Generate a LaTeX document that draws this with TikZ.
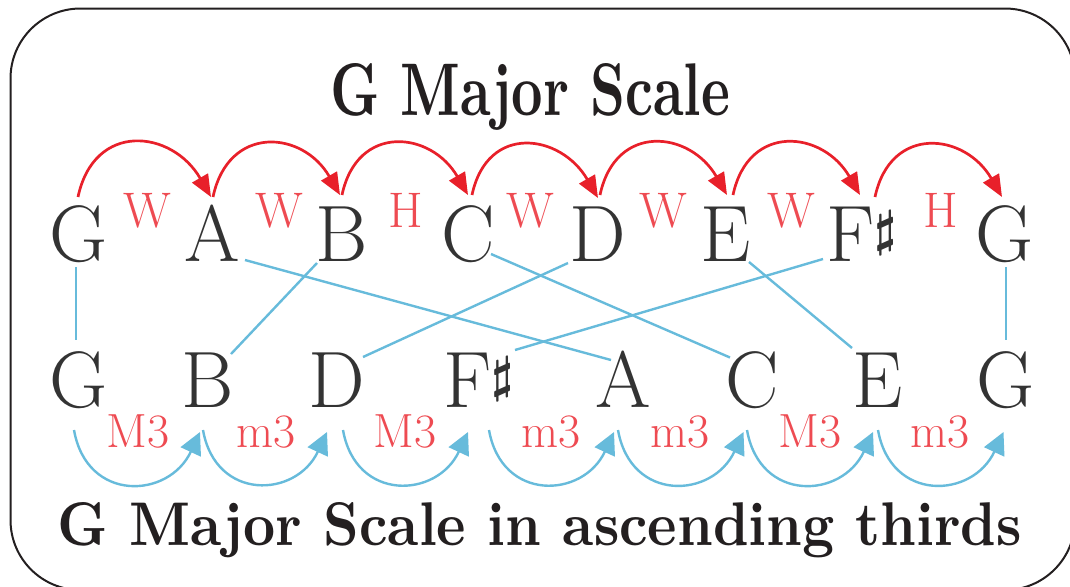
\documentclass[tikz,border=0pt]{standalone}
\usepackage{graphicx}
\usepackage{amsmath}
\usetikzlibrary{arrows.meta}
\definecolor{arrred}{HTML}{E8202A}
\definecolor{labred}{HTML}{EE4B52}
\definecolor{lineblue}{HTML}{67BBDB}
\definecolor{notegray}{HTML}{333333}
\definecolor{titleblack}{HTML}{231F20}
\newcommand{\mysharp}{\raisebox{8pt}{\fontsize{35}{35}\selectfont$\boldsymbol{\sharp}$}}
\begin{document}
\begin{tikzpicture}[x=0.5pt,y=0.5pt,
  note/.style={anchor=base,inner sep=0pt,text=notegray,font=\fontsize{40}{40}\selectfont},
  lab/.style={anchor=base,inner sep=0pt,text=labred,font=\fontsize{25}{25}\selectfont},
  blab/.style={anchor=base,inner sep=0pt,text=labred,font=\fontsize{24}{24}\selectfont},
  redarc/.style={draw=arrred,line width=1.35pt,-{Triangle[length=11pt,width=9pt]},out=78,in=120,looseness=1.5},
  bluearc/.style={draw=lineblue,line width=1.2pt,-{Triangle[length=11pt,width=11pt]},out=-80,in=-115,looseness=1.5},
  link/.style={draw=lineblue,line width=1.2pt},
  ttl/.style={anchor=base,inner sep=0pt,text=titleblack}
]
\useasboundingbox (0,0) rectangle (1070,-586);
\clip (0,0) rectangle (1070,-586);
\draw[line width=1pt,titleblack,rounded corners=35pt] (10.5,-8.5) rectangle (1075,-590);

\node[ttl] (title) at (530,-115) {\resizebox{200pt}{26pt}{\bfseries G Major Scale}};
\node[ttl] (subtitle) at (540,-545) {\resizebox{482pt}{21.5pt}{\bfseries G Major Scale in ascending thirds}};

% top row
\node[note] (tG) at (79,-261) {G};
\node[note] (tA) at (212,-261) {A};
\node[note] (tB) at (342,-261) {B};
\node[note] (tC) at (468,-261) {C};
\node[note] (tD) at (598,-261) {D};
\node[note] (tE) at (726,-261) {E};
\node[note] (tF) at (862,-261) {F\mysharp};
\node[note] (tG2) at (1005,-261) {G};

% bottom row
\node[note] (bG) at (79,-407) {G};
\node[note] (bB) at (208,-407) {B};
\node[note] (bD) at (337,-407) {D};
\node[note] (bF) at (479,-407) {F\mysharp};
\node[note] (bA) at (623,-407) {A};
\node[note] (bC) at (752,-407) {C};
\node[note] (bE) at (878,-407) {E};
\node[note] (bG2) at (1006,-407) {G};

% top labels
\node[lab] (s1) at (147,-227) {W};
\node[lab] (s2) at (279,-227) {W};
\node[lab] (s3) at (406,-227) {H};
\node[lab] (s4) at (530,-227) {W};
\node[lab] (s5) at (663,-227) {W};
\node[lab] (s6) at (791,-227) {W};
\node[lab] (s7) at (941,-227) {H};

% bottom labels
\node[blab] (i1) at (138,-447) {M3};
\node[blab] (i2) at (266,-447) {m3};
\node[blab] (i3) at (405,-447) {M3};
\node[blab] (i4) at (551,-447) {m3};
\node[blab] (i5) at (680,-447) {m3};
\node[blab] (i6) at (810,-447) {M3};
\node[blab] (i7) at (940,-447) {m3};

% red arcs
\draw[redarc] ([shift={(-1,64)}]tG.base) to ([shift={(-1,64)}]tA.base);
\draw[redarc] ([shift={(1,64)}]tA.base) to ([shift={(-2,66)}]tB.base);
\draw[redarc] ([shift={(0,66)}]tB.base) to ([shift={(0,66)}]tC.base);
\draw[redarc] ([shift={(4,66)}]tC.base) to ([shift={(0,63)}]tD.base);
\draw[redarc] ([shift={(2,66)}]tD.base) to ([shift={(1,66)}]tE.base);
\draw[redarc] ([shift={(7,66)}]tE.base) to ([shift={(-2,66)}]tF.base);
\draw[redarc] ([shift={(13,64)}]tF.base) to ([shift={(-3,64)}]tG2.base);

% blue arcs
\draw[bluearc] ([shift={(-5,-23)}]bG.base) to ([shift={(-8,-25)}]bB.base);
\draw[bluearc] ([shift={(-5,-23)}]bB.base) to ([shift={(-10,-25)}]bD.base);
\draw[bluearc] ([shift={(6,-23)}]bD.base) to ([shift={(-11,-25)}]bF.base);
\draw[bluearc] ([shift={(10,-23)}]bF.base) to ([shift={(-9,-25)}]bA.base);
\draw[bluearc] ([shift={(-5,-23)}]bA.base) to ([shift={(-8.5,-25)}]bC.base);
\draw[bluearc] ([shift={(-5,-23)}]bC.base) to ([shift={(-5,-25)}]bE.base);
\draw[bluearc] ([shift={(0,-23)}]bE.base) to ([shift={(-2.5,-25)}]bG2.base);

% links
\draw[link] ([shift={(-3,-6)}]tG.base) -- ([shift={(-3,67)}]bG.base);
\draw[link] ([shift={(33,1)}]tA.base) -- ([shift={(-12,47)}]bA.base);
\draw[link] ([shift={(-25,-2)}]tB.base) -- ([shift={(23,53)}]bB.base);
\draw[link] ([shift={(23,7)}]tC.base) -- ([shift={(-22,49.5)}]bC.base);
\draw[link] ([shift={(-30,-2)}]tD.base) -- ([shift={(26,50)}]bD.base);
\draw[link] ([shift={(23,-1)}]tE.base) -- ([shift={(-26,59)}]bE.base);
\draw[link] ([shift={(-39,2)}]tF.base) -- ([shift={(36,57)}]bF.base);
\draw[link] ([shift={(1,-6)}]tG2.base) -- ([shift={(0,67)}]bG2.base);
\end{tikzpicture}
\end{document}
